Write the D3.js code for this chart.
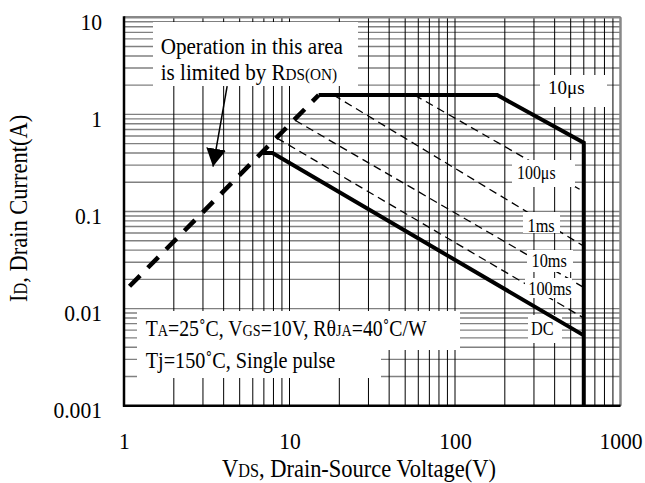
<!DOCTYPE html>
<html>
<head>
<meta charset="utf-8">
<script src="https://cdn.jsdelivr.net/npm/d3@7"></script>
<style>
  body { margin: 0; background: #fff; }
  text { font-family: "Liberation Serif", "Times New Roman", serif; fill: #000; }
</style>
</head>
<body>
<svg id="chart" width="645" height="483"></svg>
<script>
// V_DS in volts (x), I_D in amps (y)
const xTicks = [1, 10, 100, 1000];
const xTickLabels = ["1", "10", "100", "1000"];
const yTicks = [0.001, 0.01, 0.1, 1, 10];
const yTickLabels = ["0.001", "0.01", "0.1", "1", "10"];

const rdsLimit = [[1.08, 0.017], [15, 1.58]];
const pulse10us = [[15, 1.58], [180, 1.58], [600, 0.51], [600, 0.001]];
const pulse100us = [[57, 1.58], [600, 0.16]];
const pulse1ms = [[18.5, 1.58], [600, 0.044]];
const pulse10ms = [[10.8, 0.87], [600, 0.0165]];
const pulse100ms = [[8.4, 0.57], [600, 0.008]];
const dcLine = [[6.9, 0.4], [7.9, 0.4], [600, 0.0053]];

const curveLabels = ["10μs", "100μs", "1ms", "10ms", "100ms", "DC"];
const arrowFrom = [4.2, 1.95];
const arrowTo = [3.45, 0.29];

const pLeft = 124, pRight = 620.5, pTop = 17.3, pBottom = 405.7;
const svg = d3.select("#chart");

const x = d3.scaleLog().domain([1, 1000]).range([pLeft, pRight]);
const y = d3.scaleLog().domain([0.001, 10]).range([pBottom, pTop]);
const line = d3.line().x(d => x(d[0])).y(d => y(d[1]));

svg.append("rect").attr("width", 645).attr("height", 483).attr("fill", "#fff");

// log grid
svg.append("g").selectAll("line").data(y.ticks()).join("line")
  .attr("x1", pLeft).attr("x2", pRight)
  .attr("y1", d => y(d)).attr("y2", d => y(d))
  .attr("stroke", "#808080").attr("stroke-width", 1.4);
svg.append("g").selectAll("line").data(x.ticks()).join("line")
  .attr("x1", d => x(d)).attr("x2", d => x(d))
  .attr("y1", pTop).attr("y2", pBottom)
  .attr("stroke", "#000").attr("stroke-width", 1);

// pulse lines (thin dashed)
[pulse100us, pulse1ms, pulse10ms, pulse100ms].forEach(p => {
  svg.append("path").attr("d", line(p))
    .attr("fill", "none").attr("stroke", "#000")
    .attr("stroke-width", 1.3).attr("stroke-dasharray", "8,5");
});

function label(x0, y0, parts, size, sx) {
  const t = svg.append("text")
    .attr("transform", "translate(" + x0 + "," + y0 + ") scale(" + sx + ",1)")
    .style("font-size", size + "px");
  parts.forEach(p => {
    t.append("tspan").text(p[0]).style("font-size", p[1] ? (size * 0.72) + "px" : null);
  });
  return t;
}

function whiteBox(x0, y0, w, h) {
  svg.append("rect").attr("x", x0).attr("y", y0).attr("width", w).attr("height", h).attr("fill", "#fff");
}

// annotation boxes
whiteBox(153, 22, 205, 64);
label(160.7, 54, [["Operation in this area"]], 24, 0.88);
label(160.7, 80, [["is limited by R"], ["DS(ON)", true]], 24, 0.88);

whiteBox(137, 311, 323, 39);
whiteBox(137, 349, 244, 29);
label(145.7, 336, [["T"], ["A", true], ["=25˚C, V"], ["GS", true], ["=10V, Rθ"], ["JA", true], ["=40˚C/W"]], 23, 0.86);
label(145.7, 368, [["Tj=150˚C, Single pulse"]], 23, 0.88);

// curve labels
const labelBoxes = [
  [540, 75, 67, 32, 548, 94, 1.0],
  [512, 160, 63, 27, 517, 179, 0.86],
  [523, 212, 37, 21, 527.5, 232, 0.88],
  [527, 250, 46, 22, 531.5, 267, 0.88],
  [525, 278, 47, 20, 528.3, 295, 0.88],
  [528, 315, 34, 28, 531, 335, 0.88]
];
curveLabels.forEach((s, i) => {
  const b = labelBoxes[i];
  whiteBox(b[0], b[1], b[2], b[3]);
  label(b[4], b[5], [[s]], i == 0 ? 19 : 18.5, b[6]);
});

// thick boundaries
svg.append("path").attr("d", line(rdsLimit))
  .attr("fill", "none").attr("stroke", "#000")
  .attr("stroke-width", 4.5).attr("stroke-dasharray", "15,11");
[pulse10us, dcLine].forEach(p => {
  svg.append("path").attr("d", line(p))
    .attr("fill", "none").attr("stroke", "#000")
    .attr("stroke-width", 4).attr("stroke-linejoin", "miter");
});

// arrow
svg.append("defs").append("marker")
  .attr("id", "head").attr("viewBox", "0 -10 18 20")
  .attr("refX", 18).attr("refY", 0)
  .attr("markerWidth", 18).attr("markerHeight", 20)
  .attr("markerUnits", "userSpaceOnUse").attr("orient", "auto")
  .append("path").attr("d", "M0,-10L18,0L0,10Z").attr("fill", "#000");
svg.append("line")
  .attr("x1", x(arrowFrom[0])).attr("y1", y(arrowFrom[1]))
  .attr("x2", x(arrowTo[0])).attr("y2", y(arrowTo[1]))
  .attr("stroke", "#000").attr("stroke-width", 1.5)
  .attr("marker-end", "url(#head)");

// frame
svg.append("line").attr("x1", pLeft).attr("x2", pRight).attr("y1", pTop).attr("y2", pTop)
  .attr("stroke", "#888").attr("stroke-width", 2.5);
svg.append("line").attr("x1", pRight).attr("x2", pRight).attr("y1", pTop).attr("y2", pBottom)
  .attr("stroke", "#888").attr("stroke-width", 2.5);
svg.append("line").attr("x1", pLeft).attr("x2", pLeft).attr("y1", pTop - 1).attr("y2", pBottom + 1)
  .attr("stroke", "#000").attr("stroke-width", 2.5);
svg.append("line").attr("x1", pLeft - 1).attr("x2", pRight).attr("y1", pBottom).attr("y2", pBottom)
  .attr("stroke", "#000").attr("stroke-width", 2.5);

// axes
const xAxis = svg.append("g").attr("transform", "translate(0," + pBottom + ")")
  .call(d3.axisBottom(x).tickValues(xTicks).tickFormat((d, i) => xTickLabels[i]).tickSize(0));
xAxis.select(".domain").remove();
xAxis.selectAll("text")
  .attr("y", null).attr("dy", null)
  .attr("transform", "translate(0,43) scale(0.9,1)")
  .style("font-size", "24px").style("font-family", "Liberation Serif, serif").attr("fill", "#000");

const yAxis = svg.append("g").attr("transform", "translate(" + pLeft + ",0)")
  .call(d3.axisLeft(y).tickValues(yTicks).tickFormat((d, i) => yTickLabels[i]).tickSize(0));
yAxis.select(".domain").remove();
yAxis.selectAll("text")
  .attr("x", null).attr("dy", "0.49em")
  .attr("transform", "translate(-22,0) scale(0.9,1)")
  .style("font-size", "24px").style("font-family", "Liberation Serif, serif").attr("fill", "#000");

// axis titles
label(222, 477, [["V"], ["DS", true], [", Drain-Source Voltage(V)"]], 25, 0.9);
svg.append("text")
  .attr("transform", "translate(27,302) rotate(-90) scale(0.9,1)")
  .style("font-size", "25px")
  .call(t => {
    t.append("tspan").text("I");
    t.append("tspan").text("D").style("font-size", "18px");
    t.append("tspan").text(", Drain Current(A)");
  });
</script>
</body>
</html>
